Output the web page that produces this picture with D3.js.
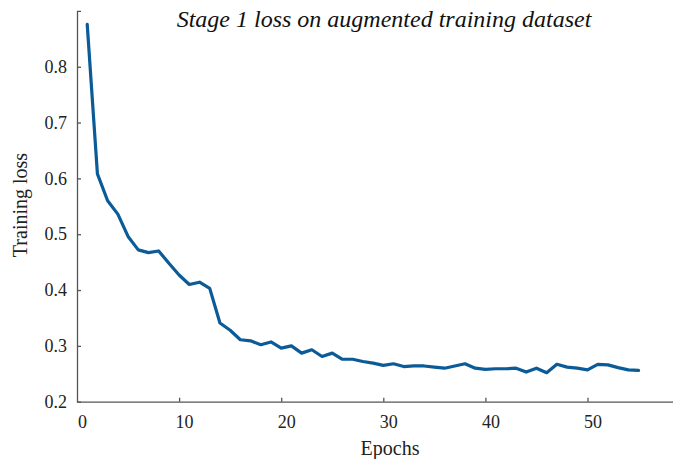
<!DOCTYPE html>
<html><head><meta charset="utf-8">
<script src="https://cdn.jsdelivr.net/npm/d3@7"></script>
<style>body{margin:0;background:#fff}svg{display:block}
svg text{font-family:'Liberation Serif','Times New Roman',serif}</style>
</head><body>
<script>
const epochs = d3.range(1, 56);
const loss = [0.876,0.608,0.560,0.536,0.496,0.472,0.467,0.470,0.448,0.427,
  0.410,0.414,0.403,0.341,0.328,0.311,0.309,0.302,0.307,0.296,
  0.300,0.287,0.293,0.281,0.287,0.276,0.276,0.272,0.269,0.265,
  0.268,0.263,0.264,0.264,0.262,0.260,0.264,0.268,0.260,0.258,
  0.259,0.259,0.260,0.253,0.260,0.252,0.267,0.262,0.260,0.257,
  0.267,0.266,0.261,0.257,0.256];
const yTicks = [0.2,0.3,0.4,0.5,0.6,0.7,0.8];
const xTicks = [0,10,20,30,40,50];
const title = "Stage 1 loss on augmented training dataset";
const xLabel = "Epochs", yLabel = "Training loss";

const W = 673, H = 459;
const svg = d3.select("body").append("svg").attr("width", W).attr("height", H);
const x = d3.scaleLinear().domain([0, 60]).range([77, 689.6]);
const y = d3.scaleLinear().domain([0.2, 0.9]).range([401.7, 10.9]);
const font = "'Liberation Serif','Times New Roman',serif";
const axisColor = "#555";

const xa = svg.append("g").attr("transform", `translate(0,${y(0.2)})`)
  .call(d3.axisBottom(x).tickValues(xTicks).tickSize(-4).tickSizeOuter(0).tickPadding(14));
const ya = svg.append("g").attr("transform", `translate(${x(0)},0)`)
  .call(d3.axisLeft(y).tickValues(yTicks).tickSize(-4).tickSizeOuter(-4).tickPadding(10).tickFormat(d3.format(".1f")));
[xa, ya].forEach(g => {
  g.attr("font-family", null).attr("font-size", null);
  g.selectAll("path,line").attr("stroke", axisColor).attr("stroke-width", 1.3);
  g.selectAll("text").style("font-family", font).style("font-size", "18px").attr("fill", "#222");
});
xa.selectAll(".tick text").attr("dx", 5);
xa.selectAll(".tick").filter(d => d === 0).select("line").remove();
ya.selectAll(".tick").filter(d => d === 0.2).select("line").remove();

svg.append("path").datum(epochs.map((e, i) => [e, loss[i]]))
  .attr("fill", "none").attr("stroke", "#0a5b98").attr("stroke-width", 3.2)
  .attr("stroke-linejoin", "round").attr("stroke-linecap", "round")
  .attr("d", d3.line().x(d => x(d[0])).y(d => y(d[1])));

svg.append("text").attr("x", 384).attr("y", 27).attr("text-anchor", "middle")
  .style("font-style", "italic").style("font-size", "24px").attr("fill", "#111")
  .text(title);
svg.append("text").attr("x", 390).attr("y", 455).attr("text-anchor", "middle")
  .style("font-size", "20px").attr("fill", "#222").text(xLabel);
svg.append("text").attr("transform", "translate(27,205) rotate(-90)").attr("text-anchor", "middle")
  .style("font-size", "20px").attr("fill", "#222").text(yLabel);
</script>
</body></html>
